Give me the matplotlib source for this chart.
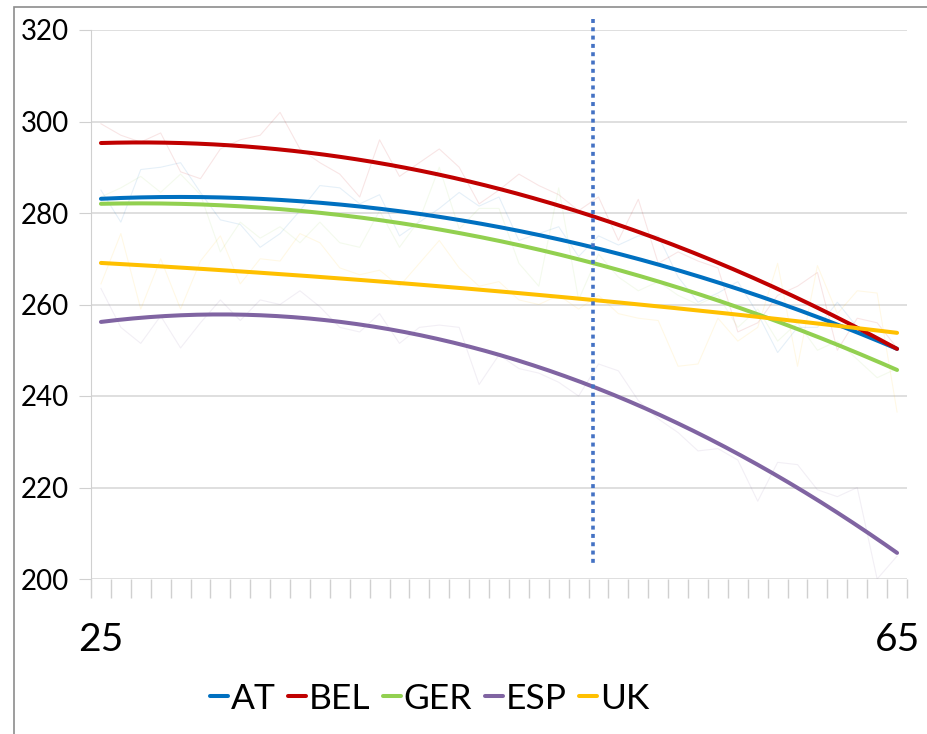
import numpy as np
import matplotlib
matplotlib.use("Agg")
import matplotlib.pyplot as plt
from matplotlib.patches import Rectangle

plt.rcParams['font.family'] = ['Lato', 'DejaVu Sans']

ages = list(range(25, 66))
countries = ["AT", "BEL", "GER", "ESP", "UK"]
colors = ["#0070C0", "#C00000", "#92D050", "#8064A2", "#FFC000"]

# raw yearly values (faint lines)
at_raw = [285, 278, 289.5, 290, 291, 284.5, 278.5, 277.5, 272.5, 275.5,
          280.5, 286, 285.5, 282, 284, 275, 278, 281, 284.5, 281.5,
          283.5, 274, 275.5, 277, 270.5, 275, 273, 275, 275, 266,
          260.5, 262.5, 265, 258, 249.5, 255, 255, 260.5, 255, 253, 250.5]
bel_raw = [299.5, 297, 295.5, 297.5, 289, 287.5, 294, 296, 297, 302,
           294, 291, 288.5, 283.5, 296, 288, 291, 294, 290, 282,
           285, 288.5, 286, 284, 280.5, 283.5, 274, 283, 269, 271.5,
           269.5, 268, 254, 256, 262, 264, 267, 250, 257, 256, 250.5]
ger_raw = [283.5, 285.5, 288, 284.5, 288.5, 284, 271.5, 278, 274.5, 277,
           273.5, 278, 273.5, 272.5, 280.5, 272.5, 278.5, 290, 276.5, 281,
           281, 269, 264, 285.5, 261, 271, 266, 263, 265, 262,
           260, 262, 255, 259, 252, 256, 250, 252, 248, 244, 246]
esp_raw = [263.5, 255, 251.5, 257.5, 250.5, 256, 261, 256.5, 261, 260,
           263, 259.5, 255, 254, 258, 251.5, 255, 255.5, 255, 242.5,
           249, 246, 245, 243, 240, 247, 245.5, 239, 235, 232,
           228, 228.5, 226, 217, 225.5, 225, 219.5, 218, 220, 200, 205]
uk_raw = [264.5, 275.5, 259, 270, 259, 269.5, 275, 264.5, 270, 269.5,
          275.5, 273.5, 268, 266.5, 267.5, 264, 269, 274, 268, 264,
          265, 261, 260, 262, 259, 262, 258, 257, 256.5, 246.5,
          247, 257, 252, 255, 269, 246.5, 268.5, 258, 263, 262.5, 236.5]

# polynomial trend read at a few ages
trend_ages = [25, 35, 45, 55, 65]
at_trend = [283.1, 282.6, 276.9, 266.2, 250.3]
bel_trend = [295.3, 293.4, 285.3, 270.9, 250.3]
ger_trend = [282.0, 280.5, 273.9, 262.3, 245.7]
esp_trend = [256.2, 257.1, 249.0, 231.9, 205.7]
uk_trend = [269.1, 266.3, 262.9, 258.7, 253.8]

raw = [at_raw, bel_raw, ger_raw, esp_raw, uk_raw]
trends = [at_trend, bel_trend, ger_trend, esp_trend, uk_trend]

marker_age = 49.7

fig = plt.figure(figsize=(9.28, 7.34), dpi=100)
ax = fig.add_axes([91 / 928, 1 - 579 / 734, 816 / 928, 549 / 734])

for vals, c in zip(raw, colors):
    ax.plot(ages, vals, color=c, lw=0.8, alpha=0.1, zorder=2)

xs = np.linspace(25, 65, 200)
handles = []
for name, vals, c in zip(countries, trends, colors):
    coef = np.polyfit(trend_ages, vals, 2)
    h, = ax.plot(xs, np.polyval(coef, xs), color=c, lw=2.9, label=name,
                 solid_capstyle='round', zorder=4)
    handles.append(h)

ax.plot([marker_age, marker_age], [322.5, 202.6], color="#4472C4", lw=2.6,
        linestyle=(0, (1.1, 1.2)), dash_capstyle='butt', clip_on=False, zorder=5)

ax.set_xlim(24.5, 65.5)
ax.set_ylim(200, 320)
ax.set_yticks(range(200, 321, 20))
ax.yaxis.grid(True, color="#d9d9d9", lw=1.2)
ax.set_axisbelow(True)
for s in ["top", "right", "bottom"]:
    ax.spines[s].set_visible(False)
ax.spines["left"].set_color("#d0d0d0")
ax.tick_params(axis="y", length=9, color="#d0d0d0", labelsize=20, pad=7,
               labelcolor="black")

# category tick marks along the bottom
ax.set_xticks(np.arange(24.5, 65.6, 1.0), minor=True)
ax.set_xticks([25, 65])
ax.set_xticklabels(["25", "65"])
ax.tick_params(axis="x", which="minor", length=14, color="#d0d0d0", width=1)
ax.tick_params(axis="x", which="major", length=0, labelsize=28, pad=31)

fig.legend(handles=handles, loc="center", bbox_to_anchor=(0.463, 0.048),
           ncol=5, frameon=False, fontsize=25.5, handlelength=0.5,
           handletextpad=0.08, columnspacing=0.36, borderpad=0)

# chart border
fig.patches.append(Rectangle((14 / 928, -0.01), 1.0, 1 - 7 / 734 + 0.01,
                             transform=fig.transFigure, fill=False,
                             edgecolor="#8c8c8c", lw=1.2))

fig.savefig("out.png", dpi=100)
